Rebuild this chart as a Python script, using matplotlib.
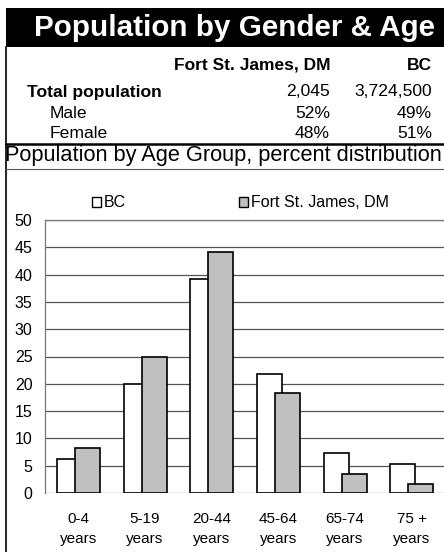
import numpy as np
import matplotlib
matplotlib.use("Agg")
import matplotlib.pyplot as plt
from matplotlib.patches import Rectangle

plt.rcParams["font.family"] = ["Liberation Sans", "DejaVu Sans"]

# --- data --------------------------------------------------------------
title = "Population by Gender & Age"
col_heads = ["Fort St. James, DM", "BC"]
row_labels = ["Total population", "Male", "Female"]
fsj_vals = ["2,045", "52%", "48%"]
bc_vals = ["3,724,500", "49%", "51%"]
subtitle = "Population by Age Group, percent distribution"

age_groups = ["0-4\nyears", "5-19\nyears", "20-44\nyears", "45-64\nyears",
              "65-74\nyears", "75 +\nyears"]
bc_pct = [6.3, 20.0, 39.2, 21.8, 7.3, 5.4]
fsj_pct = [8.3, 25.0, 44.1, 18.4, 3.4, 1.7]
y_ticks = [0, 5, 10, 15, 20, 25, 30, 35, 40, 45, 50]

W, H = 444, 552
fig = plt.figure(figsize=(W / 100, H / 100), dpi=100)

# background axes in pixel coordinates for the header table
bg = fig.add_axes([0, 0, 1, 1])
bg.set_xlim(0, W)
bg.set_ylim(H, 0)
bg.axis("off")

bg.add_patch(Rectangle((6, 8), W - 6, 39, color="black", lw=0))
bg.text(234, 28, title, color="white", fontsize=21.3, fontweight="bold",
        ha="center", va="center")
bg.plot([6, 6], [47, H], color="black", lw=1.2)
bg.plot([6, W], [144, 144], color="black", lw=1.8)
bg.plot([6, W], [169, 169], color="#555555", lw=0.8)

bg.text(330, 65, col_heads[0], fontsize=12.5, fontweight="bold", ha="right", va="center")
bg.text(432, 65, col_heads[1], fontsize=12.5, fontweight="bold", ha="right", va="center")
row_y = [92, 113, 133]
row_x = [27, 50, 50]
for lbl, a, b, y, x in zip(row_labels, fsj_vals, bc_vals, row_y, row_x):
    bold = "bold" if lbl == row_labels[0] else "normal"
    bg.text(x, y, lbl, fontsize=12.6, fontweight=bold, ha="left", va="center")
    bg.text(330, y, a, fontsize=12.6, ha="right", va="center")
    bg.text(432, y, b, fontsize=12.6, ha="right", va="center")
bg.text(223, 155, subtitle, fontsize=15.7, ha="center", va="center")

# --- bar chart ---------------------------------------------------------
x0, x1, ytop, ybot = 45, 445, 220, 493
ax = fig.add_axes([x0 / W, (H - ybot) / H, (x1 - x0) / W, (ybot - ytop) / H])
x = np.arange(len(age_groups))
w = 0.375
ax.bar(x + 0.18 + w / 2, bc_pct, width=w, color="white", edgecolor="black",
       lw=1.2, label="BC", zorder=3)
ax.bar(x + 0.45 + w / 2, fsj_pct, width=w, color="#c0c0c0", edgecolor="black",
       lw=1.2, label="Fort St. James, DM", zorder=4)
ax.set_xlim(0, len(age_groups))
ax.set_ylim(0, 50)
ax.set_yticks(y_ticks)
ax.set_xticks(x + 0.5)
ax.set_xticklabels(age_groups, fontsize=11, linespacing=1.55)
ax.tick_params(axis="y", labelsize=11.5, length=0, pad=9)
ax.tick_params(axis="x", length=0, pad=14)
ax.grid(axis="y", color="#555555", lw=0.9, zorder=0)
for s in ["right", "bottom"]:
    ax.spines[s].set_visible(False)
ax.spines["left"].set_color("#777777")
ax.spines["left"].set_linewidth(0.9)
ax.spines["top"].set_color("#777777")
ax.spines["top"].set_linewidth(0.9)

leg = ax.legend(loc="lower left", bbox_to_anchor=(0.1175, 1.035), ncol=2,
                frameon=False, fontsize=11.5, handlelength=0.58,
                handleheight=0.58, handletextpad=0.15, columnspacing=7.1,
                borderaxespad=0, borderpad=0)
for h in leg.legend_handles:
    h.set_linewidth(1.0)

fig.savefig("out.png", dpi=100)
